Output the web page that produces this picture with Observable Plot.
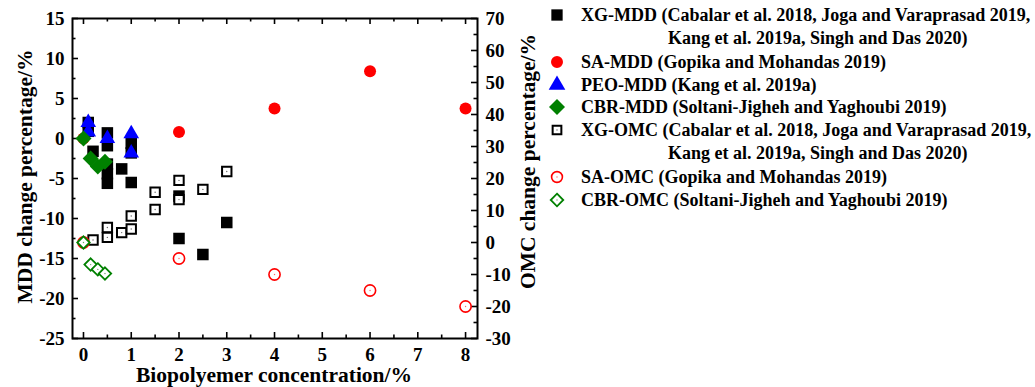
<!DOCTYPE html>
<html><head><meta charset="utf-8">
<script src="https://cdn.jsdelivr.net/npm/d3@7"></script>
<script src="https://cdn.jsdelivr.net/npm/@observablehq/plot@0.6"></script>
<style>
body{margin:0;background:#fff;}
#wrap{position:relative;width:1035px;height:387px;font-family:"Liberation Serif","Times New Roman",serif;font-weight:bold;overflow:hidden;}
#chart{position:absolute;left:0;top:0;}
#chart svg text{font-weight:bold;}
.lg{position:absolute;font-size:18px;line-height:20px;white-space:nowrap;color:#000;}
.sym{position:absolute;}
</style></head><body>
<div id="wrap"><div id="chart"></div><div id="legend"></div></div>
<script>
// ---- data ----
const xgMddX = [0.1, 0.1, 0.2, 0.5, 0.5, 0.5, 0.5, 0.5, 0.8, 1, 1, 1, 2, 2, 2.5, 3];
const xgMddY = [2.0, 0.9, -1.6, 0.7, -0.9, -3.2, -4.4, -5.6, -3.8, -0.6, -1.8, -5.5, -7.2, -12.5, -14.5, -10.5];
const saMddX = [0, 2, 4, 6, 8];
const saMddY = [0, 0.8, 3.75, 8.4, 3.75];
const peoMddX = [0.1, 0.1, 0.5, 1, 1];
const peoMddY = [2.0, 0.8, 0.0, 0.6, -1.8];
const cbrMddX = [0, 0.15, 0.3, 0.45];
const cbrMddY = [0, -2.5, -3.5, -2.9];
const xgOmcX = [0.2, 0.5, 0.5, 0.8, 1, 1, 1.5, 1.5, 2, 2, 2.5, 3];
const xgOmcY = [0.8, 4.7, 1.6, 3.1, 4.2, 8.3, 15.7, 10.3, 19.4, 13.4, 16.6, 22.2];
const saOmcX = [0, 2, 4, 6, 8];
const saOmcY = [0, -5, -10, -15, -20];
const cbrOmcX = [0, 0.15, 0.3, 0.45];
const cbrOmcY = [0, -6.9, -8.4, -9.7];

const xTicks = [0, 1, 2, 3, 4, 5, 6, 7, 8];
const mddTicks = [-25, -20, -15, -10, -5, 0, 5, 10, 15];
const omcTicks = [-30, -20, -10, 0, 10, 20, 30, 40, 50, 60, 70];
const mddDomain = [-25, 15];
const omcDomain = [-30, 70];
const xDomain = [-0.23, 8.25];

const legendLabels = [
  ["XG-MDD (Cabalar et al. 2018, Joga and Varaprasad 2019,", "Kang et al. 2019a, Singh and Das 2020)"],
  ["SA-MDD (Gopika and Mohandas 2019)"],
  ["PEO-MDD (Kang et al. 2019a)"],
  ["CBR-MDD (Soltani-Jigheh and Yaghoubi 2019)"],
  ["XG-OMC (Cabalar et al. 2018, Joga and Varaprasad 2019,", "Kang et al. 2019a, Singh and Das 2020)"],
  ["SA-OMC (Gopika and Mohandas 2019)"],
  ["CBR-OMC (Soltani-Jigheh and Yaghoubi 2019)"]
];

// ---- helpers ----
const omcToMdd = o => mddDomain[0] + (o - omcDomain[0]) * (mddDomain[1] - mddDomain[0]) / (omcDomain[1] - omcDomain[0]);
const mddToOmc = m => omcDomain[0] + (m - mddDomain[0]) * (omcDomain[1] - omcDomain[0]) / (mddDomain[1] - mddDomain[0]);
const pts = (xs, ys, f = v => v) => xs.map((x, i) => ({x, y: f(ys[i])}));
const mid = a => a.slice(0, -1).map((v, i) => (v + a[i + 1]) / 2);

const W = 545, H = 387, mL = 72, mR = 68, mT = 18, mB = 49;
const pw = W - mL - mR, ph = H - mT - mB;

const xgMdd = pts(xgMddX, xgMddY), saMdd = pts(saMddX, saMddY), peoMdd = pts(peoMddX, peoMddY), cbrMdd = pts(cbrMddX, cbrMddY);
const xgOmc = pts(xgOmcX, xgOmcY, omcToMdd), saOmc = pts(saOmcX, saOmcY, omcToMdd), cbrOmc = pts(cbrOmcX, cbrOmcY, omcToMdd);

const tk = {stroke: "#000", strokeWidth: 1.6};
const font = {fontSize: 19, fill: "#000"};
const title = {fontSize: 21.5, fontWeight: "bold", fill: "#000", textAnchor: "middle", lineAnchor: "middle"};

const chart = Plot.plot({
  width: W, height: H,
  marginLeft: mL, marginRight: mR, marginTop: mT, marginBottom: mB,
  style: {fontFamily: "'Liberation Serif', 'Times New Roman', serif", fontWeight: "bold", fontSize: "19px", background: "white", overflow: "visible"},
  x: {domain: xDomain},
  y: {domain: mddDomain},
  marks: [
    // inward ticks
    Plot.tickX(xTicks, {x: d => d, insetTop: ph - 6, ...tk}),
    Plot.tickX(mid(xTicks), {x: d => d, insetTop: ph - 3.5, ...tk}),
    Plot.tickX(xTicks, {x: d => d, insetBottom: ph - 6, ...tk}),
    Plot.tickX(mid(xTicks), {x: d => d, insetBottom: ph - 3.5, ...tk}),
    Plot.tickY(mddTicks, {y: d => d, insetRight: pw - 6, ...tk}),
    Plot.tickY(mid(mddTicks), {y: d => d, insetRight: pw - 3.5, ...tk}),
    Plot.tickY(omcTicks.map(omcToMdd), {y: d => d, insetLeft: pw - 6, ...tk}),
    Plot.tickY(mid(omcTicks).map(omcToMdd), {y: d => d, insetLeft: pw - 3.5, ...tk}),
    Plot.frame({stroke: "#000", strokeWidth: 2}),
    // axes
    Plot.axisX(xTicks, {anchor: "bottom", tickSize: 0, tickPadding: 9, tickFormat: d => String(d), label: null, ...font}),
    Plot.axisY(mddTicks, {anchor: "left", tickSize: 0, tickPadding: 8, tickFormat: d => String(d), label: null, ...font}),
    Plot.axisY(omcTicks.map(omcToMdd), {anchor: "right", tickSize: 0, tickPadding: 8, tickFormat: d => String(Math.round(mddToOmc(d))), label: null, ...font}),
    Plot.text(["MDD change percentage/%"], {frameAnchor: "left", dx: -47, dy: -2, rotate: -90, ...title}),
    Plot.text(["OMC change percentage/%"], {frameAnchor: "right", dx: 51, dy: -17, rotate: -90, ...title}),
    Plot.text(["Biopolyemer concentration/%"], {frameAnchor: "bottom", dx: -1, dy: 37, ...title}),
    // data
    Plot.dot(xgMdd, {x: "x", y: "y", symbol: "square", r: 6.5, fill: "#000", stroke: "none"}),
    Plot.dot(saMdd, {x: "x", y: "y", symbol: "circle", r: 6, fill: "#ff0000", stroke: "none"}),
    Plot.dot(peoMdd, {x: "x", y: "y", symbol: "triangle", r: 5.8, fill: "#0000ff", stroke: "none"}),
    Plot.dot(cbrMdd, {x: "x", y: "y", symbol: "diamond2", r: 7.2, fill: "#008000", stroke: "none"}),
    Plot.dot(xgOmc, {x: "x", y: "y", symbol: "square", r: 5.3, fill: "#fff", stroke: "#000", strokeWidth: 2}),
    Plot.dot(xgOmc, {x: "x", y: "y", r: 0.7, fill: "#666", stroke: "none"}),
    Plot.dot(saOmc, {x: "x", y: "y", symbol: "circle", r: 5.6, fill: "#fff", stroke: "#ff0000", strokeWidth: 1.6}),
    Plot.dot(saOmc, {x: "x", y: "y", r: 0.7, fill: "#f66", stroke: "none"}),
    Plot.dot(cbrOmc, {x: "x", y: "y", symbol: "diamond2", r: 5.6, fill: "#fff", stroke: "#008000", strokeWidth: 1.8}),
    Plot.dot(cbrOmc, {x: "x", y: "y", r: 0.7, fill: "#6a6", stroke: "none"})
  ]
});
document.getElementById("chart").appendChild(chart);

// ---- legend ----
const legendStyles = [
  {type: d3.symbolSquare, size: 128, fill: "#000", stroke: "none", sw: 0},
  {type: d3.symbolCircle, size: 113, fill: "#ff0000", stroke: "none", sw: 0},
  {type: d3.symbolTriangle, size: 120, fill: "#0000ff", stroke: "none", sw: 0},
  {type: d3.symbolDiamond2, size: 163, fill: "#008000", stroke: "none", sw: 0},
  {type: d3.symbolSquare, size: 76, fill: "#fff", stroke: "#000", sw: 2, dot: "#666"},
  {type: d3.symbolCircle, size: 92, fill: "#fff", stroke: "#ff0000", sw: 1.6, dot: "#f66"},
  {type: d3.symbolDiamond2, size: 100, fill: "#fff", stroke: "#008000", sw: 1.8, dot: "#6a6"}
];
const rowCy = [15, 62, 85, 107, 130, 177, 200];
const lg = document.getElementById("legend");
legendLabels.forEach((lines, i) => {
  const s = legendStyles[i];
  const cy = rowCy[i];
  const path = d3.symbol(s.type, s.size)();
  const svg = `<svg class="sym" width="24" height="24" style="left:${557 - 12}px;top:${cy - 12}px"><g transform="translate(12,12)"><path d="${path}" fill="${s.fill}" stroke="${s.stroke}" stroke-width="${s.sw}"/>${s.dot ? `<circle r="0.7" fill="${s.dot}"/>` : ""}</g></svg>`;
  lg.insertAdjacentHTML("beforeend", svg);
  lines.forEach((t, j) => {
    const d = document.createElement("div");
    d.className = "lg";
    d.textContent = t;
    d.style.left = (j === 0 ? 581 : 668) + "px";
    d.style.top = (cy + j * 23 - 10) + "px";
    lg.appendChild(d);
  });
});
</script>
</body></html>
